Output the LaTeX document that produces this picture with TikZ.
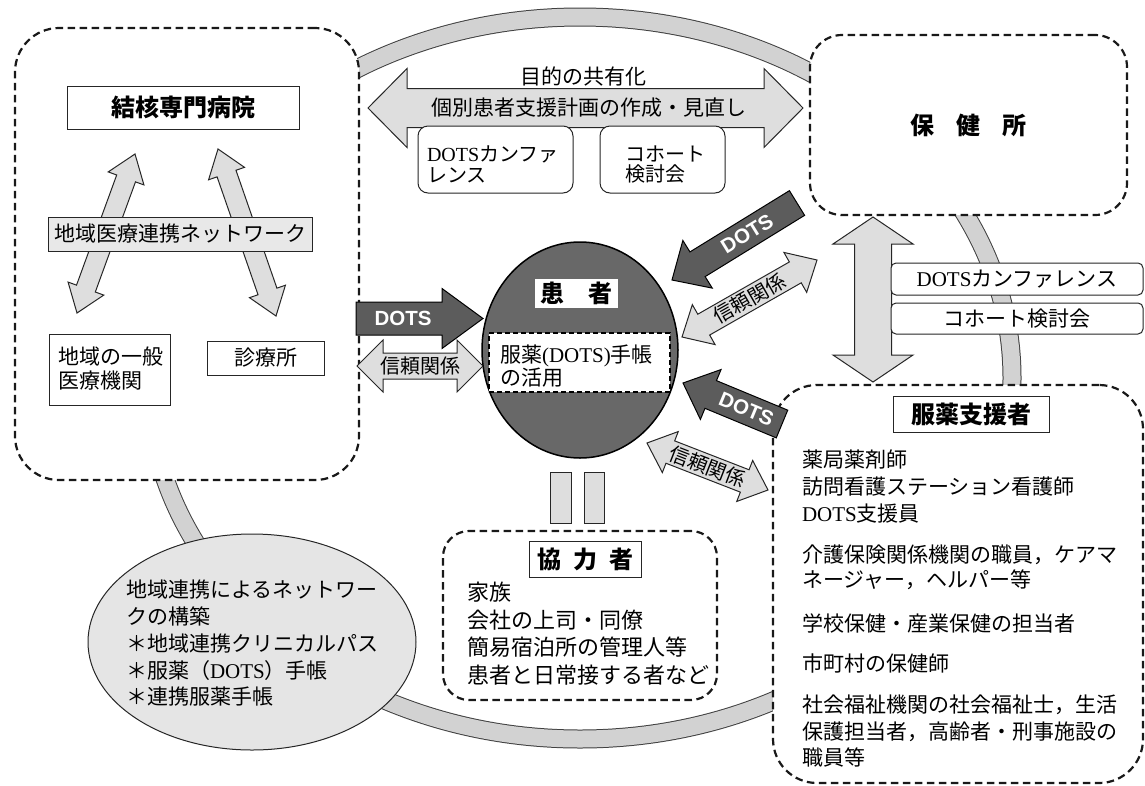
\documentclass[tikz,border=0pt]{standalone}
\usepackage{fontspec}
\newfontfamily\jp{Noto Sans CJK JP}
\newfontfamily\lat{Liberation Serif}
\newfontfamily\hv{Liberation Sans}
\usetikzlibrary{calc,shapes.geometric}
\definecolor{ringgray}{HTML}{D2D2D2}
\definecolor{arrowgray}{HTML}{DEDEDE}
\definecolor{dotsgray}{HTML}{5C5C5C}
\definecolor{patgray}{HTML}{686868}
\definecolor{netgray}{HTML}{E8E8E8}
\definecolor{ellgray}{HTML}{E5E5E5}
\newcommand\ftitle{\jp\bfseries\fontsize{24}{28}\selectfont}
\newcommand\fn{\jp\fontsize{21}{27}\selectfont}
\newcommand\fs{\jp\fontsize{20}{22}\selectfont}
\newcommand\fdots{\hv\bfseries\fontsize{20.5}{22}\selectfont}
\newcommand\Dt{{\lat DOTS}}
% double block arrow between two named coordinates
\newcommand\dblarrow[6]{%
  \coordinate (ha) at ($(#1)!#5!(#2)$);
  \coordinate (hb) at ($(#2)!#5!(#1)$);
  \draw[#6] (#1) -- ($(ha)!#4!90:(#2)$) -- ($(ha)!#3!90:(#2)$) -- ($(hb)!#3!90:(#2)$) -- ($(hb)!#4!90:(#2)$) -- (#2)
    -- ($(hb)!#4!-90:(#2)$) -- ($(hb)!#3!-90:(#2)$) -- ($(ha)!#3!-90:(#2)$) -- ($(ha)!#4!-90:(#2)$) -- cycle;}
% single block arrow from tail #1 to tip #2
\newcommand\sglarrow[6]{%
  \coordinate (hb) at ($(#2)!#5!(#1)$);
  \draw[#6] ($(#1)!#3!90:(#2)$) -- ($(hb)!#3!90:(#2)$) -- ($(hb)!#4!90:(#2)$) -- (#2)
    -- ($(hb)!#4!-90:(#2)$) -- ($(hb)!#3!-90:(#2)$) -- ($(#1)!#3!-90:(#2)$) -- cycle;}
\tikzset{
  dbox/.style={draw=black!90, line width=2.2pt, dash pattern=on 7.5pt off 4.5pt, fill=white},
  box/.style={draw=black!85, line width=1pt, fill=white},
  lgarrow/.style={draw=black!85, line width=1pt, fill=arrowgray, line join=miter},
  dkarrow/.style={draw=black, line width=1pt, fill=dotsgray, line join=miter},
  lbl/.style={sloped, font=\fs},
  dlbl/.style={sloped, font=\fdots, text=white},
}
\begin{document}
\begin{tikzpicture}[x=1pt,y=-1pt, every node/.style={inner sep=0pt, outer sep=0pt}]
\useasboundingbox (0,0) rectangle (1145,785);
% ring
\draw[line width=19pt, black!75] (580,378) ellipse [x radius=432pt, y radius=361pt];
\draw[line width=17pt, ringgray] (580,378) ellipse [x radius=432pt, y radius=361pt];

% ===== left: hospital network =====
\node[dbox, minimum width=344, minimum height=452, rounded corners=44pt] (left) at (187,254) {};
\node[box, minimum width=232, minimum height=43, font=\ftitle] (tb) at (183,107.5) {結核専門病院};
\coordinate (la1) at (135,154); \coordinate (la2) at (77,313);
\coordinate (ra1) at (218,149); \coordinate (ra2) at (276,316);
\dblarrow{la1}{la2}{10pt}{19pt}{26pt}{lgarrow}
\dblarrow{ra1}{ra2}{10pt}{19pt}{26pt}{lgarrow}
\node[box, fill=netgray, minimum width=264, minimum height=34, font=\fn] (net) at (180,234) {地域医療連携ネットワーク};
\node[box, minimum width=121, minimum height=71] (gen) at (109.5,369.5) {};
\node[anchor=west, align=left, font=\jp\fontsize{21}{23.5}\selectfont] (gent) at (58,368.5) {地域の一般\\医療機関};
\node[box, minimum width=117, minimum height=34, font=\fn] (clinic) at (265.5,358) {診療所};

% ===== top: shared goal arrow =====
\coordinate (ta1) at (368,108); \coordinate (ta2) at (803,108);
\dblarrow{ta1}{ta2}{19.5pt}{39.5pt}{39pt}{lgarrow}
\node[font=\fn] (goal) at (583,76) {目的の共有化};
\node[font=\fn] (plan) at (589,108) {個別患者支援計画の作成・見直し};
\node[box, rounded corners=10pt, minimum width=155, minimum height=67] (conf1) at (495.5,159.5) {};
\node[anchor=west, align=left, font=\jp\fontsize{20}{20.5}\selectfont] (conf1t) at (427,164.5) {\Dt カンファ\\レンス};
\node[box, rounded corners=10pt, minimum width=125, minimum height=67] (coh1) at (662.5,159.5) {};
\node[anchor=west, align=left, font=\jp\fontsize{20}{20.5}\selectfont] (coh1t) at (625,164.5) {コホート\\検討会};

% ===== health center =====
\node[dbox, minimum width=317, minimum height=180, rounded corners=32pt, font=\ftitle] (hc) at (968.5,125) {保\hspace{22pt}健\hspace{22pt}所};
\coordinate (va1) at (873,217); \coordinate (va2) at (873,382);
\dblarrow{va1}{va2}{18.5pt}{40pt}{27pt}{lgarrow}
\node[box, rounded corners=5pt, minimum width=252, minimum height=32, font=\fn] (conf2) at (1017,279) {\Dt カンファレンス};
\node[box, rounded corners=5pt, minimum width=252, minimum height=31, font=\fn] (coh2) at (1017,318.5) {コホート検討会};

% ===== supporters =====
\node[dbox, minimum width=370, minimum height=398, rounded corners=44pt] (sup) at (958,584) {};
\node[box, minimum width=156, minimum height=36, font=\ftitle] (supt) at (971,414) {服薬支援者};
\node[anchor=west, align=left, font=\fn] (g1) at (802,487) {薬局薬剤師\\訪問看護ステーション看護師\\\Dt 支援員};
\node[anchor=west, align=left, font=\jp\fontsize{21}{25.5}\selectfont] (g2) at (802,567.5) {介護保険関係機関の職員，ケアマ\\ネージャー，ヘルパー等};
\node[anchor=west, font=\fn] (g3) at (802,623) {学校保健・産業保健の担当者};
\node[anchor=west, font=\fn] (g4) at (802,663) {市町村の保健師};
\node[anchor=west, align=left, font=\jp\fontsize{21}{26.5}\selectfont] (g5) at (802,731.5) {社会福祉機関の社会福祉士，生活\\保護担当者，高齢者・刑事施設の\\職員等};

% ===== patient =====
\node[ellipse, draw=black, line width=1.5pt, fill=patgray, minimum width=196, minimum height=216] (pat) at (580,350) {};
\node[fill=white, minimum width=83, minimum height=29, font=\ftitle] (patl) at (576.5,293.5) {患\hspace{24pt}者};
\node[draw=black, fill=white, line width=2pt, dash pattern=on 5pt off 3pt, minimum width=181, minimum height=59] (book) at (579.5,362.5) {};
\node[anchor=west, align=left, font=\jp\fontsize{21}{23}\selectfont] (bookt) at (500,366.5) {服薬{\lat (DOTS)}手帳\\の活用};

% arrows to patient
\coordinate (ld1) at (356,318.5); \coordinate (ld2) at (483,318.5);
\sglarrow{ld1}{ld2}{16.5pt}{30pt}{41pt}{dkarrow}
\path (ld1) -- node[dlbl, pos=0.37] (ldt) {DOTS} (ld2);
\coordinate (lr1) at (357,366); \coordinate (lr2) at (483,366);
\dblarrow{lr1}{lr2}{13pt}{26pt}{26pt}{lgarrow}
\path (lr1) -- node[lbl, pos=0.5] (lrt) {信頼関係} (lr2);

\coordinate (ud1) at (797,203); \coordinate (ud2) at (672,280);
\sglarrow{ud1}{ud2}{14.5pt}{28pt}{30pt}{dkarrow}
\path (ud1) -- node[dlbl, pos=0.40] (udt) {DOTS} (ud2);
\coordinate (ur1) at (682,337); \coordinate (ur2) at (817,260);
\dblarrow{ur1}{ur2}{12pt}{23pt}{25pt}{lgarrow}
\path (ur1) -- node[lbl, pos=0.5] (urt) {信頼関係} (ur2);

\coordinate (bd1) at (782,424); \coordinate (bd2) at (683,383);
\sglarrow{bd1}{bd2}{15pt}{27pt}{30pt}{dkarrow}
\path (bd1) -- node[dlbl, pos=0.36] (bdt) {DOTS} (bd2);
\coordinate (br1) at (647,443); \coordinate (br2) at (768,490);
\dblarrow{br1}{br2}{12pt}{22pt}{25pt}{lgarrow}
\path (br1) -- node[lbl, pos=0.5] (brt) {信頼関係} (br2);

% ===== cooperators =====
\node[draw=black!85, line width=1pt, fill=arrowgray, minimum width=21, minimum height=51] (bar1) at (560.5,497.5) {};
\node[draw=black!85, line width=1pt, fill=arrowgray, minimum width=20, minimum height=51] (bar2) at (594,497.5) {};
\node[dbox, minimum width=274, minimum height=169, rounded corners=26pt] (coop) at (580,615.5) {};
\node[box, minimum width=112, minimum height=36, font=\ftitle] (coopt) at (585,559) {協\hspace{12pt}力\hspace{12pt}者};
\node[anchor=west, align=left, font=\jp\fontsize{22}{27.7}\selectfont] (coopl) at (467,633.5) {家族\\会社の上司・同僚\\簡易宿泊所の管理人等\\患者と日常接する者など};

% ===== regional network ellipse =====
\node[ellipse, draw=black!85, line width=1pt, fill=ellgray, minimum width=328, minimum height=216] (reg) at (252,642) {};
\node[anchor=west, align=left, font=\jp\fontsize{21}{26.75}\selectfont] (regt) at (126,643.5) {地域連携によるネットワー\\クの構築\\＊地域連携クリニカルパス\\＊服薬（\Dt）手帳\\＊連携服薬手帳};
\end{tikzpicture}
\end{document}
